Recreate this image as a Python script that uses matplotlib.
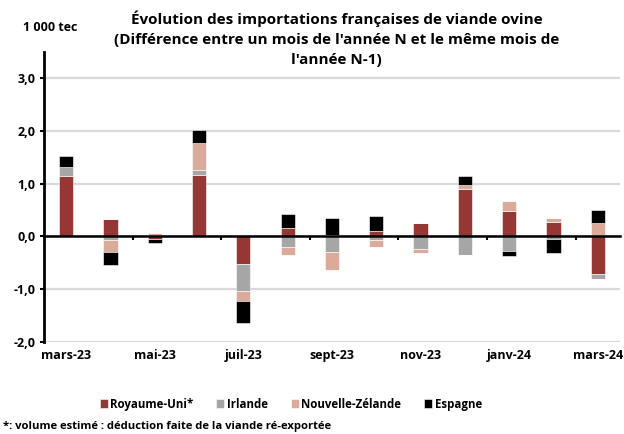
"""
Évolution des importations françaises de viande ovine
Différence mensuelle N vs N-1, par origine (1 000 tec).
"""

import numpy as np
import matplotlib
matplotlib.use("Agg")
import matplotlib.pyplot as plt

# ─── Data ────────────────────────────────────────────────────────────────────

months = ["mars-23", "avr-23", "mai-23", "juin-23", "juil-23", "août-23",
          "sept-23", "oct-23", "nov-23", "déc-23", "janv-24", "févr-24",
          "mars-24"]

royaume_uni = [1.14, 0.33, -0.04, 1.16, -0.53, 0.15, 0.03, 0.11, 0.25, 0.89, 0.49, 0.27, -0.71]
irlande = [0.18, -0.06, 0.00, 0.09, -0.50, -0.20, -0.30, -0.06, -0.23, -0.36, -0.27, -0.04, -0.10]
nouvelle_zelande = [0.00, -0.24, 0.07, 0.52, -0.20, -0.15, -0.34, -0.15, -0.08, 0.08, 0.18, 0.08, 0.25]
espagne = [0.20, -0.25, -0.09, 0.25, -0.41, 0.27, 0.32, 0.27, 0.00, 0.18, -0.11, -0.27, 0.25]

series = [
    ("Royaume-Uni*", royaume_uni, "#953735"),
    ("Irlande", irlande, "#A6A6A6"),
    ("Nouvelle-Zélande", nouvelle_zelande, "#DAAA9B"),
    ("Espagne", espagne, "#000000"),
]

TITLE = ("Évolution des importations françaises de viande ovine\n"
         "(Différence entre un mois de l'année N et le même mois de\n"
         "l'année N-1)")
FOOTNOTE = "*: volume estimé : déduction faite de la viande ré-exportée"

# ─── Style ───────────────────────────────────────────────────────────────────

plt.rcParams["font.family"] = ["Open Sans", "DejaVu Sans"]
plt.rcParams["font.weight"] = "bold"

fig = plt.figure(figsize=(6.24, 4.34), dpi=100)
ax = fig.add_axes([0.0705, 0.212, 0.923, 0.669])

x = np.arange(len(months))
pos_base = np.zeros(len(months))
neg_base = np.zeros(len(months))
handles = []
for name, vals, color in series:
    vals = np.array(vals)
    pos = np.where(vals > 0, vals, 0)
    neg = np.where(vals < 0, vals, 0)
    h = ax.bar(x, pos, width=0.32, bottom=pos_base, color=color,
               edgecolor="white", linewidth=0.4, label=name, zorder=3)
    ax.bar(x, neg, width=0.32, bottom=neg_base, color=color,
           edgecolor="white", linewidth=0.4, zorder=3)
    pos_base += pos
    neg_base += neg
    handles.append(h)

# axes & grid
ax.set_xlim(-0.5, len(months) - 0.5)
ax.set_ylim(-2.0, 3.5)
ax.set_yticks(np.arange(-2, 3.1, 1.0))
ax.set_yticklabels([f"{v:.1f}".replace(".", ",") for v in np.arange(-2, 3.1, 1.0)],
                   fontsize=9, fontweight="bold")
ax.grid(axis="y", color="#D9D9D9", linewidth=1.6, zorder=0)
ax.tick_params(axis="y", length=3, width=1.5, pad=3)

for side in ["top", "right"]:
    ax.spines[side].set_visible(False)
ax.spines["left"].set_linewidth(2)
ax.spines["bottom"].set_position(("data", 0))
ax.spines["bottom"].set_linewidth(1.8)
ax.spines["bottom"].set_zorder(4)

# tick marks on the zero line at every second category boundary
ax.set_xticks(np.arange(1.5, len(months) - 1, 2))
ax.set_xticklabels([])
ax.tick_params(axis="x", length=3, width=1.5, direction="out")

# month labels along the bottom
sec = ax.secondary_xaxis(0)
sec.set_xticks(x[::2])
sec.set_xticklabels(months[::2], fontsize=9, fontweight="bold")
sec.tick_params(length=0, pad=5)
sec.spines["bottom"].set_visible(False)

# texts
fig.text(0.539, 0.975, TITLE, ha="center", va="top", fontsize=11,
         fontweight="bold", linespacing=1.55)
fig.text(0.037, 0.937, "1 000 tec", ha="left", va="center", fontsize=9,
         fontweight="bold")
fig.text(0.005, 0.018, FOOTNOTE, ha="left", va="center", fontsize=8.1,
         fontweight="bold")

fig.legend(handles=handles, loc="center", bbox_to_anchor=(0.466, 0.069),
           ncol=4, frameon=False, fontsize=8.3, handlelength=0.7,
           handleheight=0.7, handletextpad=0.2, columnspacing=2.0)

fig.savefig("out.png", dpi=100)
